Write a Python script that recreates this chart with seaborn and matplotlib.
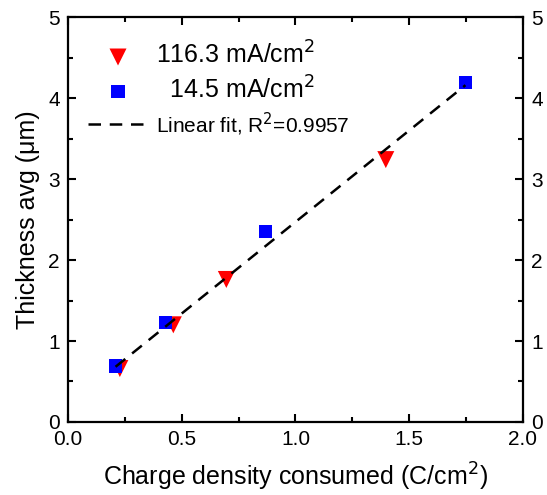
import numpy as np
import pandas as pd
import matplotlib
matplotlib.use("Agg")
import matplotlib.pyplot as plt
import seaborn as sns
from matplotlib.ticker import MultipleLocator

# Data
charge_high = [0.228, 0.463, 0.696, 1.397]   # 116.3 mA/cm2
thick_high = [0.66, 1.20, 1.76, 3.24]
charge_low = [0.209, 0.429, 0.867, 1.747]    # 14.5 mA/cm2
thick_low = [0.69, 1.23, 2.35, 4.19]

df_high = pd.DataFrame({"x": charge_high, "y": thick_high})
df_low = pd.DataFrame({"x": charge_low, "y": thick_low})
df_all = pd.concat([df_high, df_low], ignore_index=True)

sns.set_style("ticks")
plt.rcParams['font.family'] = ['Liberation Sans', 'DejaVu Sans']
plt.rcParams['text.color'] = 'black'
plt.rcParams['axes.labelcolor'] = 'black'
plt.rcParams['xtick.color'] = 'black'
plt.rcParams['ytick.color'] = 'black'
plt.rcParams['axes.edgecolor'] = 'black'

fig = plt.figure(figsize=(5.47, 4.95), dpi=100)
ax = fig.add_axes([0.1243, 0.1475, 0.8318, 0.818])

# data points (red first, blue drawn above)
sns.scatterplot(data=df_high, x="x", y="y", marker="v", color="red", s=150,
                edgecolor="none", ax=ax, label="116.3 mA/cm$^2$", zorder=2)
sns.scatterplot(data=df_low, x="x", y="y", marker="s", color="blue", s=92,
                edgecolor="none", ax=ax, label="  14.5 mA/cm$^2$", zorder=3)

# linear fit over all points, drawn on top
sns.regplot(data=df_all, x="x", y="y", scatter=False, ci=None, ax=ax,
            line_kws=dict(color="black", linestyle=(0, (5, 3.5)),
                          linewidth=1.8, zorder=4),
            label="Linear fit, R$^2$=0.9957")

ax.set_xlim(0, 2.0)
ax.set_ylim(0, 5)
ax.xaxis.set_major_locator(MultipleLocator(0.5))
ax.xaxis.set_minor_locator(MultipleLocator(0.25))
ax.yaxis.set_major_locator(MultipleLocator(1))
ax.yaxis.set_minor_locator(MultipleLocator(0.5))
ax.tick_params(which="both", direction="in", top=True, right=True,
               labelright=True, width=1.5, labelsize=15, pad=6)
ax.tick_params(which="major", length=6)
ax.tick_params(which="minor", length=3.5)
for sp in ax.spines.values():
    sp.set_linewidth(1.6)

ax.set_xlabel("Charge density consumed (C/cm$^2$)", fontsize=18, labelpad=8)
ax.set_ylabel("Thickness avg (μm)", fontsize=18, labelpad=6)

handles, labels = ax.get_legend_handles_labels()
leg = ax.legend(handles, labels,
                loc="upper left", bbox_to_anchor=(0.044, 0.94),
                frameon=False, fontsize=18, borderpad=0, borderaxespad=0,
                handlelength=2.4, labelspacing=0.3, handletextpad=0.3)
leg.get_texts()[2].set_fontsize(15)

fig.savefig("out.png", dpi=100)
